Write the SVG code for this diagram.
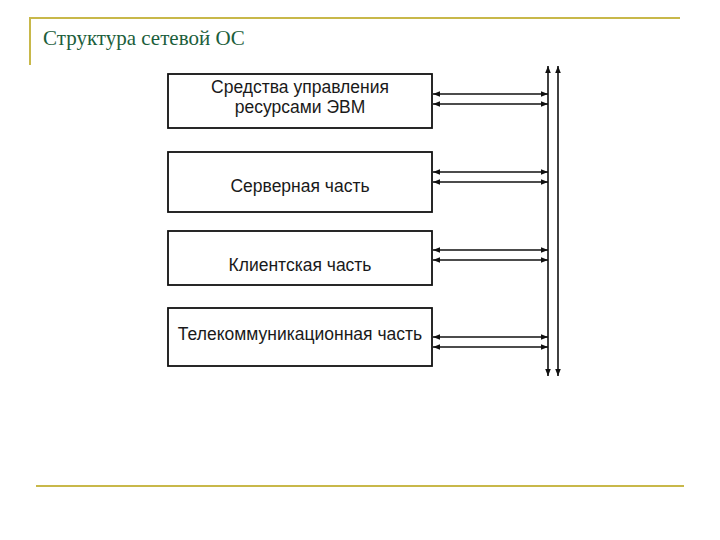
<svg xmlns="http://www.w3.org/2000/svg" width="720" height="540" viewBox="0 0 720 540">
<defs>
<marker id="ah" viewBox="0 0 10 10" refX="10" refY="5" markerWidth="8" markerHeight="7" orient="auto-start-reverse" markerUnits="userSpaceOnUse">
<path d="M0,1 L10,5 L0,9 z" fill="#111"/>
</marker>
<style>
.frame{stroke:#c8b84a;stroke-width:2;fill:none}
.title{font-family:"Liberation Serif","Times New Roman",serif;font-size:21px;fill:#1b5e3b}
.box{fill:#fff;stroke:#111;stroke-width:1.8}
.lbl{font-family:"Liberation Sans",Arial,sans-serif;font-size:17.5px;fill:#1a1a1a;text-anchor:middle}
.conn{stroke:#111;stroke-width:1.6;fill:none;marker-start:url(#ah);marker-end:url(#ah)}
</style>
</defs>
<rect width="720" height="540" fill="#fff"/>
<g id="frame">
<line class="frame" x1="30" y1="18" x2="680" y2="18"/>
<line class="frame" x1="30" y1="17" x2="30" y2="65"/>
<line class="frame" x1="36" y1="486" x2="684" y2="486"/>
</g>
<text class="title" x="43" y="45">Структура сетевой ОС</text>
<g id="n1"><rect class="box" x="168" y="74" width="264" height="54"/><text class="lbl" x="300" y="93">Средства управления</text><text class="lbl" x="300" y="113">ресурсами ЭВМ</text></g>
<g id="n2"><rect class="box" x="168" y="152" width="264" height="60"/><text class="lbl" x="300" y="192">Серверная часть</text></g>
<g id="n3"><rect class="box" x="168" y="231" width="264" height="54"/><text class="lbl" x="300" y="271">Клиентская часть</text></g>
<g id="n4"><rect class="box" x="168" y="308" width="264" height="58"/><text class="lbl" x="300" y="340">Телекоммуникационная часть</text></g>
<g id="connectors">
<line class="conn" x1="433" y1="94" x2="548" y2="94"/>
<line class="conn" x1="433" y1="104" x2="548" y2="104"/>
<line class="conn" x1="433" y1="172" x2="548" y2="172"/>
<line class="conn" x1="433" y1="182" x2="548" y2="182"/>
<line class="conn" x1="433" y1="250" x2="548" y2="250"/>
<line class="conn" x1="433" y1="260" x2="548" y2="260"/>
<line class="conn" x1="433" y1="337" x2="548" y2="337"/>
<line class="conn" x1="433" y1="347" x2="548" y2="347"/>
<line class="conn" x1="548" y1="66" x2="548" y2="376"/>
<line class="conn" x1="558" y1="66" x2="558" y2="376"/>
</g>
</svg>
